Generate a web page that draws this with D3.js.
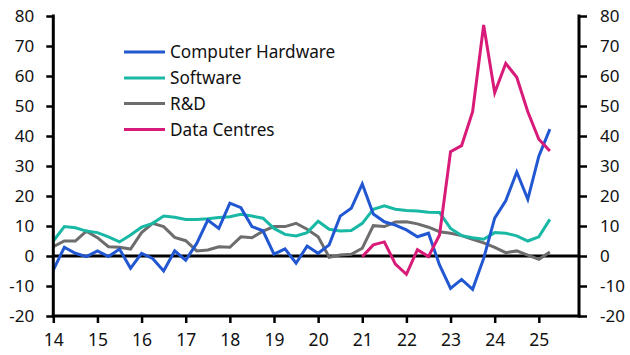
<!DOCTYPE html>
<html>
<head>
<meta charset="utf-8">
<script src="https://cdn.jsdelivr.net/npm/d3@7"></script>
<style>
  body { margin: 0; background: #fff; }
  svg { display: block; }
  text { font-family: "Noto Sans", sans-serif; fill: #111; }
</style>
</head>
<body>
<svg id="chart" width="630" height="355"></svg>
<script>
// Quarterly, 2014Q1 .. 2025Q2
const startYear = 14;
const xTicks = [14, 15, 16, 17, 18, 19, 20, 21, 22, 23, 24, 25];
const yTicks = [-20, -10, 0, 10, 20, 30, 40, 50, 60, 70, 80];

const seriesNames = ["Computer Hardware", "Software", "R&D", "Data Centres"];
const seriesColors = ["#2257d2", "#18b8a5", "#6d6d6d", "#d81b78"];

const hardware = [-4.7, 2.9, 0.9, -0.2, 1.7, -0.2, 2.3, -4.1, 0.9, -0.8, -5.0, 1.7,
  -1.4, 4.2, 12.0, 9.2, 17.6, 16.1, 9.8, 8.4, 0.6, 2.4, -2.4, 3.3,
  0.9, 3.7, 13.3, 15.9, 24.0, 14.0, 11.4, 10.3, 8.7, 6.4, 7.6, -3.0,
  -10.8, -7.8, -11.1, -0.8, 12.6, 18.4, 28.0, 18.9, 33.3, 42.3];
const software = [5.0, 9.8, 9.4, 8.3, 7.8, 6.4, 4.7, 7.0, 9.6, 10.9, 13.3, 12.9,
  12.2, 12.2, 12.4, 12.8, 13.1, 13.9, 13.3, 12.6, 9.2, 7.2, 6.7, 7.8,
  11.6, 8.9, 8.3, 8.5, 10.9, 15.6, 16.7, 15.6, 15.2, 15.0, 14.6, 14.5,
  9.2, 6.8, 6.1, 5.6, 7.8, 7.6, 6.7, 5.0, 6.4, 12.2];
const rnd = [3.1, 5.0, 5.0, 8.3, 6.1, 3.1, 2.9, 2.3, 7.8, 10.9, 9.8, 6.2,
  5.1, 1.7, 2.0, 3.1, 2.9, 6.4, 6.1, 8.3, 9.8, 9.8, 10.9, 8.9,
  6.4, -0.4, 0.3, 0.6, 2.6, 10.1, 9.8, 11.3, 11.4, 10.7, 9.6, 8.1,
  7.6, 6.8, 5.6, 4.4, 2.9, 1.1, 1.7, 0.3, -1.1, 1.3];
// Data Centres starts in 2021Q1
const dcStartIndex = 28;
const dataCentres = [-0.2, 3.7, 4.7, -2.7, -6.1, 2.1, -0.2, 7.0,
  34.8, 36.8, 48.1, 77.0, 54.4, 64.2, 59.6, 48.1, 38.9, 35.0];

const svg = d3.select("#chart");
const pLeft = 53.3, pRight = 579, pTop = 16, pBottom = 316;

const x = d3.scaleLinear().domain([14, 25.91]).range([pLeft, pRight]);
const y = d3.scaleLinear().domain([-20, 80]).range([pBottom, pTop]);

const toPts = (arr, offset) => arr.map((v, i) => ({ t: startYear + (i + offset) / 4, v }));
const series = [
  toPts(hardware, 0),
  toPts(software, 0),
  toPts(rnd, 0),
  toPts(dataCentres, dcStartIndex)
];

// zero line
svg.append("line")
  .attr("x1", pLeft).attr("x2", pRight)
  .attr("y1", y(0)).attr("y2", y(0))
  .attr("stroke", "#000").attr("stroke-width", 3);

const line = d3.line().x(d => x(d.t)).y(d => y(d.v));
// draw order: R&D, Software, Hardware, Data centres
[2, 1, 0, 3].forEach(i => {
  svg.append("path")
    .datum(series[i])
    .attr("fill", "none")
    .attr("stroke", seriesColors[i])
    .attr("stroke-width", 3)
    .attr("stroke-linejoin", "miter")
    .attr("d", line);
});

// left axis
const gL = svg.append("g").attr("transform", `translate(${pLeft},0)`)
  .call(d3.axisLeft(y).tickValues(yTicks).tickSize(7).tickPadding(12).tickSizeOuter(0));
// right axis
const gR = svg.append("g").attr("transform", `translate(${pRight},0)`)
  .call(d3.axisRight(y).tickValues(yTicks).tickSize(8).tickPadding(13).tickSizeOuter(0));
// bottom axis
const gB = svg.append("g").attr("transform", `translate(0,${pBottom})`)
  .call(d3.axisBottom(x).tickValues(xTicks).tickSize(7).tickPadding(11).tickSizeOuter(0)
    .tickFormat(d3.format("d")));

[gL, gR, gB].forEach(g => {
  g.select(".domain").attr("stroke", "#000").attr("stroke-width", 3);
  g.selectAll(".tick line").attr("stroke", "#000").attr("stroke-width", 2.5);
  g.selectAll(".tick text").attr("font-size", 17).attr("fill", "#111")
    .style("font-family", '"Noto Sans", sans-serif');
});
gB.selectAll(".tick text").attr("font-size", 17.5);
gL.select(".domain").attr("d", `M0,${pTop - 1.5}V${pBottom + 1.5}`);
gR.select(".domain").attr("d", `M0,${pTop - 1.5}V${pBottom + 1.5}`);
gB.select(".domain").attr("d", `M${pLeft - 1.5},0H${pRight + 1.5}`);
gL.selectAll(".tick text").text(d => d < 0 ? "-" + Math.abs(d) : d);
gR.selectAll(".tick text").text(d => d < 0 ? "-" + Math.abs(d) : d);

// legend
const legend = svg.append("g");
const legY = [52, 78, 103.5, 129.5];
seriesNames.forEach((name, i) => {
  legend.append("line")
    .attr("x1", 124).attr("x2", 165)
    .attr("y1", legY[i]).attr("y2", legY[i])
    .attr("stroke", seriesColors[i]).attr("stroke-width", 3);
  legend.append("text")
    .attr("x", 170).attr("y", legY[i])
    .attr("dy", "0.35em")
    .attr("font-size", 17.2)
    .text(name);
});
</script>
</body>
</html>
